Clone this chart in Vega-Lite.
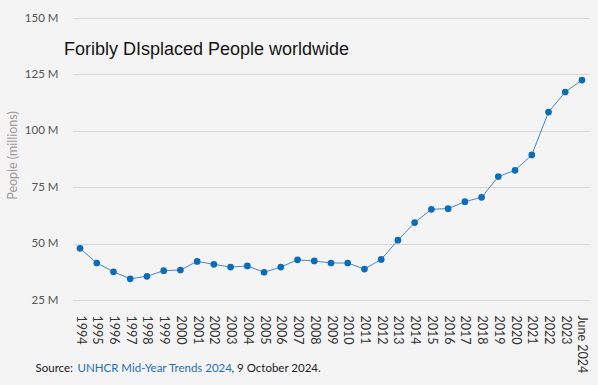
{
  "$schema": "https://vega.github.io/schema/vega-lite/v6.json",
  "width": 516,
  "height": 282,
  "autosize": {"type": "none"},
  "padding": {"left": 73, "top": 18, "right": 9, "bottom": 85},
  "background": "#f4f4f4",
  "title": {
    "text": "Foribly DIsplaced People worldwide",
    "anchor": "start",
    "frame": "group",
    "orient": "top",
    "offset": -26,
    "dx": -9,
    "dy": 35,
    "baseline": "alphabetic",
    "font": "Liberation Sans",
    "fontSize": 18,
    "fontWeight": "normal",
    "color": "#151515"
  },
  "config": {
    "view": {"stroke": null},
    "axis": {"labelFont": "Lato", "titleFont": "Lato", "titleFontWeight": "normal"}
  },
  "data": {
    "values": [
      {"year": "1994", "people": 47.9},
      {"year": "1995", "people": 41.4},
      {"year": "1996", "people": 37.5},
      {"year": "1997", "people": 34.4},
      {"year": "1998", "people": 35.5},
      {"year": "1999", "people": 38.0},
      {"year": "2000", "people": 38.3},
      {"year": "2001", "people": 42.1},
      {"year": "2002", "people": 40.8},
      {"year": "2003", "people": 39.6},
      {"year": "2004", "people": 40.1},
      {"year": "2005", "people": 37.3},
      {"year": "2006", "people": 39.6},
      {"year": "2007", "people": 42.8},
      {"year": "2008", "people": 42.3},
      {"year": "2009", "people": 41.4},
      {"year": "2010", "people": 41.4},
      {"year": "2011", "people": 38.7},
      {"year": "2012", "people": 43.0},
      {"year": "2013", "people": 51.5},
      {"year": "2014", "people": 59.3},
      {"year": "2015", "people": 65.2},
      {"year": "2016", "people": 65.5},
      {"year": "2017", "people": 68.6},
      {"year": "2018", "people": 70.5},
      {"year": "2019", "people": 79.7},
      {"year": "2020", "people": 82.5},
      {"year": "2021", "people": 89.3},
      {"year": "2022", "people": 108.3},
      {"year": "2023", "people": 117.2},
      {"year": "June 2024", "people": 122.5}
    ]
  },
  "layer": [
    {
      "mark": {"type": "line", "color": "#4a87c6", "strokeWidth": 1},
      "encoding": {
        "x": {
          "field": "year",
          "type": "ordinal",
          "sort": null,
          "scale": {"type": "point", "padding": 0.42},
          "axis": {
            "orient": "bottom",
            "labelAngle": 90,
            "labelAlign": "left",
            "labelBaseline": "middle",
            "labelPadding": 15,
            "labelFontSize": 12.5,
            "labelColor": "#333333",
            "labelOverlap": false,
            "ticks": false,
            "domain": false,
            "grid": false,
            "title": "Source:",
            "titleX": -38,
            "titleY": 71,
            "titleAlign": "left",
            "titleAnchor": null,
            "titleBaseline": "alphabetic",
            "titleFontSize": 11.5,
            "titleColor": "#222222"
          }
        },
        "y": {
          "field": "people",
          "type": "quantitative",
          "scale": {"domain": [25, 150], "nice": false, "zero": false},
          "axis": {
            "orient": "left",
            "values": [25, 50, 75, 100, 125, 150],
            "labelExpr": "datum.value + ' M'",
            "labelPadding": 15,
            "labelFontSize": 11.5,
            "labelColor": "#555555",
            "ticks": false,
            "domain": false,
            "grid": true,
            "gridColor": "#d6d6d6",
            "gridWidth": 1,
            "title": "People (millions)",
            "titleX": -61,
            "titleY": 137,
            "titleAngle": -90,
            "titleAlign": "center",
            "titleBaseline": "middle",
            "titleFontSize": 12.5,
            "titleColor": "#9a9a9a"
          }
        }
      }
    },
    {
      "mark": {"type": "point", "filled": true, "opacity": 1, "color": "#0b6cb8", "size": 45},
      "encoding": {
        "x": {
          "field": "year",
          "type": "ordinal",
          "sort": null,
          "scale": {"type": "point", "padding": 0.42},
          "axis": {
            "orient": "top",
            "labels": false,
            "ticks": false,
            "domain": false,
            "grid": false,
            "title": "UNHCR Mid-Year Trends 2024",
            "titleX": 4,
            "titleY": 353,
            "titleAlign": "left",
            "titleAnchor": null,
            "titleBaseline": "alphabetic",
            "titleFontSize": 11.5,
            "titleColor": "#1f6fb5"
          }
        },
        "y": {
          "field": "people",
          "type": "quantitative",
          "scale": {"domain": [25, 150], "nice": false, "zero": false},
          "axis": {
            "orient": "right",
            "labels": false,
            "ticks": false,
            "domain": false,
            "grid": false,
            "title": ", 9 October 2024.",
            "titleX": -358,
            "titleY": 353,
            "titleAngle": 0,
            "titleAlign": "left",
            "titleAnchor": null,
            "titleBaseline": "alphabetic",
            "titleFontSize": 11.5,
            "titleColor": "#222222"
          }
        }
      }
    }
  ],
  "resolve": {"axis": {"x": "independent", "y": "independent"}}
}
